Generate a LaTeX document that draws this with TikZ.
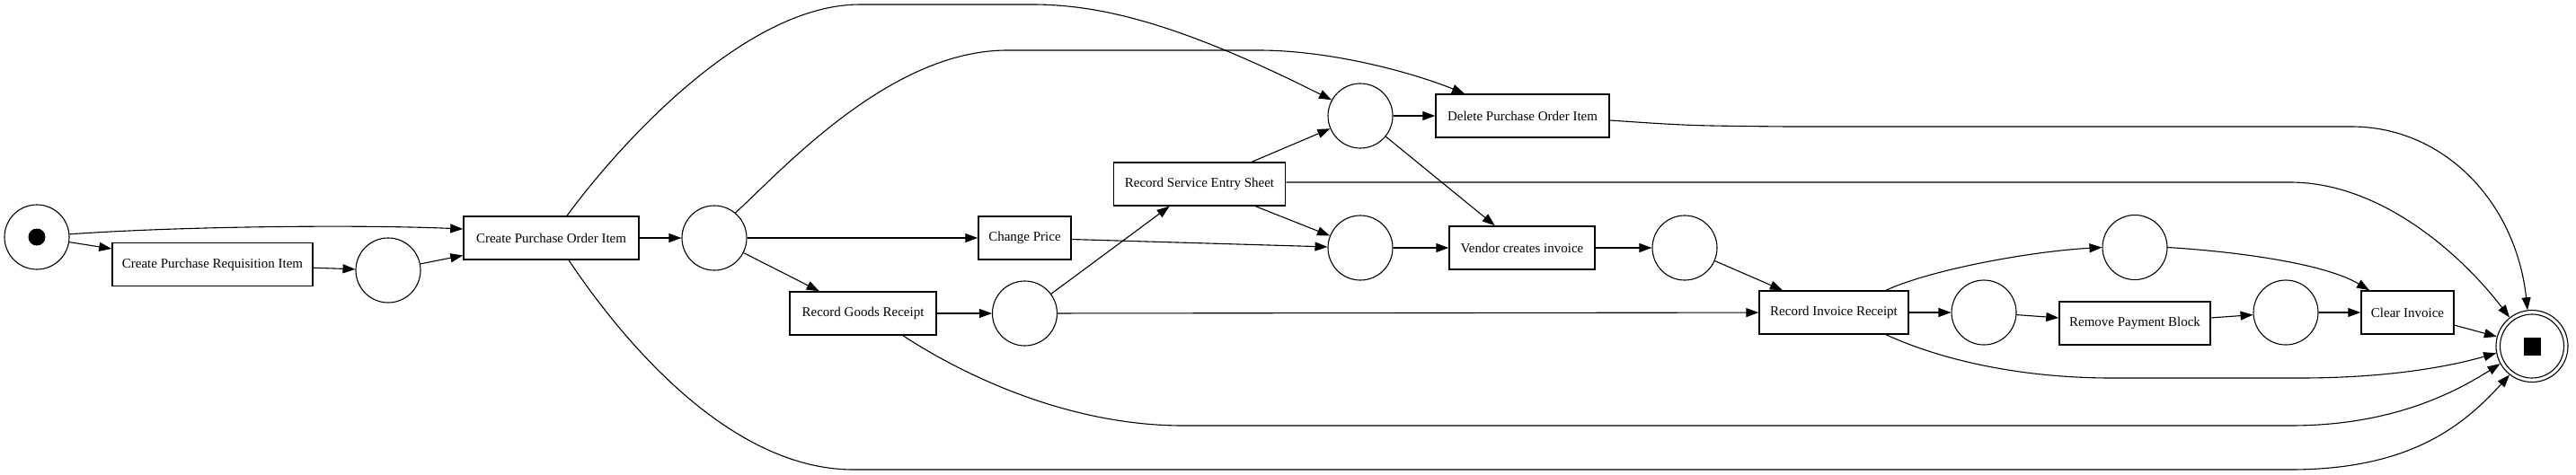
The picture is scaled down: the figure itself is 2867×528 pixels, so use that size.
\documentclass[tikz,border=0pt]{standalone}
\usepackage{fontspec}
\setmainfont{Liberation Serif}
\usetikzlibrary{shapes.geometric,arrows.meta}
\begin{document}
\begin{tikzpicture}[x=1pt,y=-1pt,
  place/.style={circle, draw, line width=1.1pt, minimum size=72pt, inner sep=0pt},
  trans/.style={rectangle, draw, line width=1.5pt, minimum height=48pt, inner sep=0pt, font=\fontsize{15}{18}\selectfont},
  arc/.style={draw, line width=1.1pt, -{Triangle[length=14pt,width=10pt]}}]
\fill[white] (0,0) rectangle (2867,528);
\useasboundingbox (0,0) rectangle (2867,528);
% places
\node[place] (p0) at (41,264) {};
\node[place] (p1) at (432,301) {};
\node[place] (p2) at (795,265) {};
\node[place] (p3) at (1140.5,349) {};
\node[place] (p4) at (1514,129) {};
\node[place] (p5) at (1514,276) {};
\node[place] (p6) at (1875,276) {};
\node[place] (p7) at (2376,275.5) {};
\node[place] (p8) at (2208,348) {};
\node[place] (p9) at (2544,348) {};
\node[circle, draw, line width=1.1pt, minimum size=80pt, inner sep=0pt] (pend) at (2818,385.5) {};
\fill (p0) circle (9.5pt);
\draw[line width=1.1pt] (pend) circle (35.5pt);
\fill (2808.5,376) rectangle (2828,395.5);
% transitions
\node[trans, minimum width=223pt] (t_cpri) at (236.5,294.5) {Create Purchase Requisition Item};
\node[trans, minimum width=195pt] (t_cpoi) at (613.5,265) {Create Purchase Order Item};
\node[trans, minimum width=103pt] (t_cp) at (1140.5,265) {Change Price};
\node[trans, minimum width=163pt] (t_rgr) at (960.5,349) {Record Goods Receipt};
\node[trans, minimum width=191pt] (t_rses) at (1335,205) {Record Service Entry Sheet};
\node[trans, minimum width=193pt] (t_dpoi) at (1694.5,129) {Delete Purchase Order Item};
\node[trans, minimum width=162pt] (t_vci) at (1694,276) {Vendor creates invoice};
\node[trans, minimum width=166pt] (t_rir) at (2041,348) {Record Invoice Receipt};
\node[trans, minimum width=168pt] (t_rpb) at (2376,360) {Remove Payment Block};
\node[trans, minimum width=103pt] (t_ci) at (2679.5,348) {Clear Invoice};
% arcs
\draw[arc] (p0.5) .. controls (200,252) and (400,250) .. ([yshift=10pt]t_cpoi.west);
\draw[arc] (p0) -- (t_cpri);
\draw[arc] (t_cpri) -- (p1);
\draw[arc] (p1) -- (t_cpoi);
\draw[arc] (t_cpoi) -- (p2);
\draw[arc] ([xshift=17.5pt]t_cpoi.north) .. controls (690,160) and (830,5) .. (957,5) -- (1149,5) .. controls (1230,5) and (1320,30) .. (p4.151);
\draw[arc] (p2.50) .. controls (870,190) and (990,56) .. (1121,56) -- (1401,56) .. controls (1480,56) and (1570,80) .. ([xshift=-64.5pt]t_dpoi.north);
\draw[arc] (p2) -- (t_cp);
\draw[arc] (p2) -- (t_rgr);
\draw[arc] (t_rgr) -- (p3);
\draw[arc] ([xshift=44.5pt]t_rgr.south) .. controls (1060,410) and (1180,474) .. (1317,474) -- (2549,474) .. controls (2650,474) and (2720,445) .. (pend.209.5);
\draw[arc] ([xshift=19.5pt]t_cpoi.south) .. controls (690,375) and (810,523) .. (950,523) -- (2549,523) .. controls (2680,523) and (2740,476) .. (pend.232.5);
\draw[arc] (t_cp) -- (p5);
\draw[arc] (p3) -- (t_rses);
\draw[arc] (p3) -- (t_rir);
\draw[arc] (t_rses) -- (p4);
\draw[arc] (t_rses) -- (p5);
\draw[arc] ([yshift=2pt]t_rses.east) -- (2549,203) .. controls (2650,203) and (2740,284) .. (pend.128);
\draw[arc] (p4) -- (t_dpoi);
\draw[arc] (p4) -- (t_vci);
\draw[arc] ([yshift=-5pt]t_dpoi.east) .. controls (1880,140) .. (1990,141) -- (2617,141) .. controls (2720,141) and (2800,225) .. (pend.97);
\draw[arc] (p5) -- (t_vci);
\draw[arc] (t_vci) -- (p6);
\draw[arc] (p6) -- (t_rir);
\draw[arc] (t_rir) -- (p8);
\draw[arc] ([xshift=58pt]t_rir.north) .. controls (2150,300) and (2260,280) .. (p7.west);
\draw[arc] ([xshift=58pt]t_rir.south) .. controls (2170,405) and (2260,421) .. (2350,421) -- (2560,421) .. controls (2650,421) and (2720,410) .. (pend.191);
\draw[arc] (p8) -- (t_rpb);
\draw[arc] (t_rpb) -- (p9);
\draw[arc] (p9) -- (t_ci);
\draw[arc] (p7.east) .. controls (2500,281) and (2590,295) .. ([xshift=-42.5pt]t_ci.north);
\draw[arc] (t_ci) -- (pend);
\end{tikzpicture}
\end{document}
